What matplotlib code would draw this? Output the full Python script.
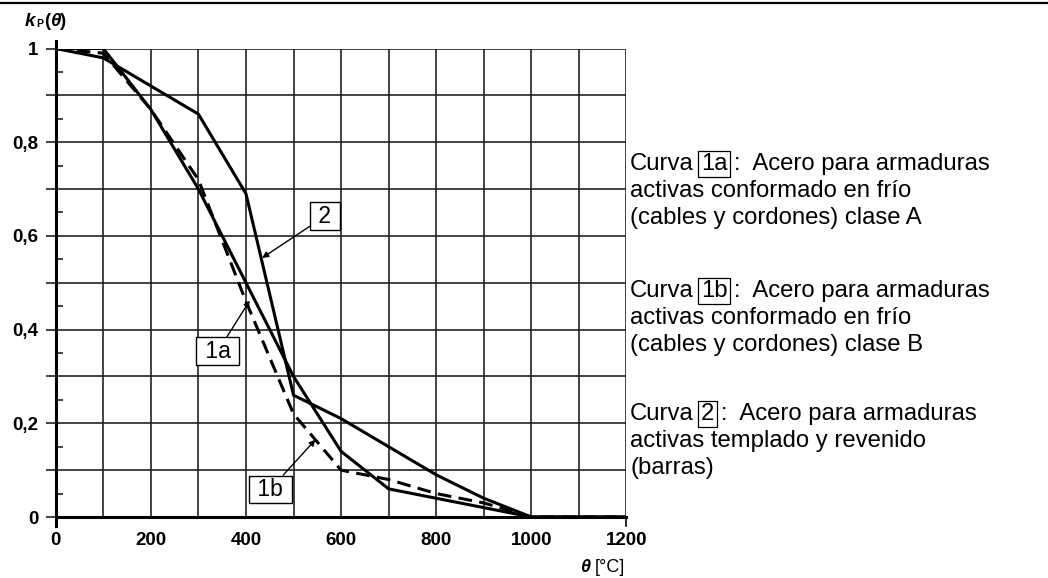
import matplotlib
matplotlib.use("Agg")
import matplotlib.pyplot as plt
from matplotlib.ticker import FixedLocator, FuncFormatter

plt.rcParams['font.family'] = ['Liberation Sans', 'DejaVu Sans']

# temperature [°C] and reduction factor kp(theta)
theta = [0, 100, 200, 300, 400, 500, 600, 700, 800, 900, 1000, 1100, 1200]
kp_1a = [1.00, 1.00, 0.87, 0.70, 0.50, 0.30, 0.14, 0.06, 0.04, 0.02, 0.00, 0.00, 0.00]
kp_1b = [1.00, 0.99, 0.87, 0.72, 0.46, 0.22, 0.10, 0.08, 0.05, 0.03, 0.00, 0.00, 0.00]
kp_2 = [1.00, 0.98, 0.92, 0.86, 0.69, 0.26, 0.21, 0.15, 0.09, 0.04, 0.00, 0.00, 0.00]

x_ticks = [0, 200, 400, 600, 800, 1000, 1200]
y_ticks = [0.0, 0.1, 0.2, 0.3, 0.4, 0.5, 0.6, 0.7, 0.8, 0.9, 1.0]

# curve labels: (text, label position, arrow tip)
curve_labels = [
    ("2", (566, 0.642), (434, 0.553)),
    ("1a", (341, 0.354), (408, 0.462)),
    ("1b", (451, 0.059), (546, 0.165)),
]

legend_rows = [
    ("1a", ["activas conformado en frío", "(cables y cordones) clase A"]),
    ("1b", ["activas conformado en frío", "(cables y cordones) clase B"]),
    ("2", ["activas templado y revenido", "(barras)"]),
]

W, H = 1048, 578
fig = plt.figure(figsize=(W / 100, H / 100), dpi=100)
ax = fig.add_axes([55.7 / W, 61 / H, (626.5 - 55.7) / W, (517 - 48.5) / H])

ax.set_xlim(0, 1200)
ax.set_ylim(0, 1)

ax.plot(theta, kp_1a, color='black', lw=2.2, solid_joinstyle='miter', zorder=3)
ax.plot(theta, kp_2, color='black', lw=2.2, solid_joinstyle='miter', zorder=3)
ax.plot(theta, kp_1b, color='black', lw=2.2, linestyle=(0, (4.5, 2.4)), zorder=3)

# grid every 100 / 0.1
ax.xaxis.set_major_locator(FixedLocator(x_ticks))
ax.xaxis.set_minor_locator(FixedLocator(list(range(100, 1200, 200))))
ax.yaxis.set_major_locator(FixedLocator(y_ticks))
ax.yaxis.set_minor_locator(FixedLocator([v + 0.05 for v in y_ticks[:-1]]))
ax.grid(True, which='major', color='#222222', lw=1.2)
ax.grid(True, which='minor', axis='x', color='#222222', lw=1.2)


def y_fmt(v, pos):
    if round(v * 10) % 2:
        return ""
    if abs(v) < 1e-9:
        return "0"
    if abs(v - 1) < 1e-9:
        return "1"
    return f"{v:.1f}".replace(".", ",")


ax.yaxis.set_major_formatter(FuncFormatter(y_fmt))
ax.tick_params(axis='y', which='major', direction='out', length=7.5, width=1.2,
               color='#222222', pad=5, labelsize=13.5)
ax.tick_params(axis='y', which='minor', direction='in', length=5, width=1.2, color='#222222')
ax.tick_params(axis='x', which='both', length=0, pad=11, labelsize=13.5)
for lbl in ax.get_xticklabels() + ax.get_yticklabels():
    lbl.set_fontweight('bold')

for s in ['top', 'right']:
    ax.spines[s].set_visible(False)
ax.spines['left'].set_linewidth(2.2)
ax.spines['bottom'].set_linewidth(2.2)
ax.spines['left'].set_bounds(0, 1.015)
# small extensions of the frame below the axis
ax.plot([0, 0], [0, -0.02], color='black', lw=2.2, clip_on=False)
ax.plot([1200, 1200], [0, -0.02], color='black', lw=1.2, clip_on=False)

for txt, pos, tip in curve_labels:
    ax.annotate(" " + txt + " ", xy=tip, xytext=pos, ha='center', va='center', fontsize=16.5,
                bbox=dict(boxstyle='square,pad=0.1', fc='white', ec='black', lw=1),
                arrowprops=dict(arrowstyle='-|>', color='black', lw=1,
                                mutation_scale=9, shrinkA=0, shrinkB=0),
                zorder=5)

# top border line
fig.add_artist(plt.Line2D([0, 1], [1 - 2.5 / H, 1 - 2.5 / H], color='black', lw=1.6))

fig.canvas.draw()
renderer = fig.canvas.get_renderer()


def chain(x_px, y_px, parts):
    """Place text pieces one after another on a common baseline (pixels from top-left)."""
    x = x_px
    for s, kw, gap in parts:
        t = fig.text(x / W, 1 - y_px / H, s, va='baseline', ha='left', **kw)
        bb = t.get_window_extent(renderer)
        x = bb.x1 + gap
    return x


leg_fs = 17.2
row_y = [170, 297, 420]
for (lab, lines), y0 in zip(legend_rows, row_y):
    x = chain(630, y0, [("Curva", dict(fontsize=leg_fs), 7)])
    t = fig.text(x / W, 1 - y0 / H, lab, va='baseline', ha='left', fontsize=leg_fs,
                 bbox=dict(boxstyle='square,pad=0.1', fc='white', ec='black', lw=0.9))
    bb = t.get_window_extent(renderer)
    x = bb.x1 + 7
    fig.text(x / W, 1 - y0 / H, ":  Acero para armaduras", va='baseline', ha='left', fontsize=leg_fs)
    for i, line in enumerate(lines):
        fig.text(630 / W, 1 - (y0 + 26.8 * (i + 1)) / H, line, va='baseline', ha='left', fontsize=leg_fs)

# axis labels
x = chain(25, 26, [("k", dict(fontsize=13.5, fontweight='bold', fontstyle='italic'), 0.5)])
x = chain(x, 27, [("P", dict(fontsize=7.5, fontweight='bold'), 1)])
x = chain(x, 26, [("(", dict(fontsize=13.5, fontweight='bold'), 0)])
x = chain(x, 26, [("θ", dict(fontsize=13.5, fontweight='bold', fontstyle='italic'), 0)])
chain(x, 26, [(")", dict(fontsize=13.5, fontweight='bold'), 0)])

x = chain(580, 572, [("θ", dict(fontsize=13, fontweight='bold', fontstyle='italic'), 5)])
chain(x, 572, [("[°C]", dict(fontsize=13), 0)])

fig.savefig("out.png", dpi=100)
